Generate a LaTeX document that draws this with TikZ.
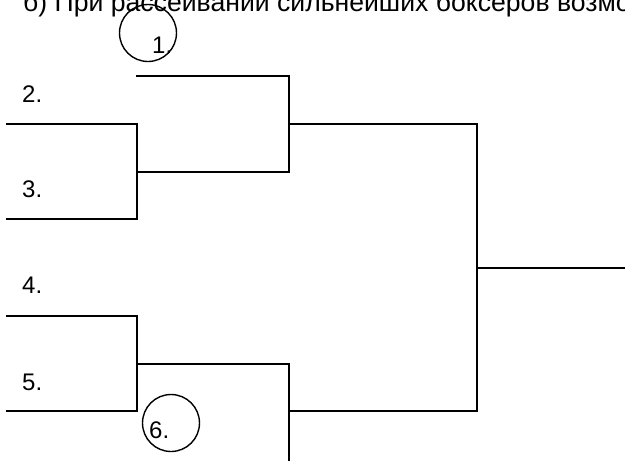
\documentclass[tikz,border=0pt]{standalone}
\usepackage{fontspec}
\setmainfont{Liberation Sans}
\begin{document}
\begin{tikzpicture}[x=1pt,y=-1pt,
  lbl/.style={anchor=base west,inner sep=0pt,font=\fontsize{24}{28}\selectfont},
  ring/.style={draw,circle,line width=1.4pt,minimum size=57pt,inner sep=0pt},
  wire/.style={line width=2pt,line cap=rect}]
\clip (0,0) rectangle (625,461);
\fill[white] (0,0) rectangle (625,461);
% heading
\node[anchor=base west,inner sep=0pt,font=\fontsize{26.6}{30}\selectfont] (head) at (23,11) {б) При рассеивании сильнейших боксеров возмо};
% circles
\node[ring] (c1) at (148,33) {};
\node[ring] (c6) at (171,423) {};
% labels
\node[lbl] (l1) at (152,53) {1.};
\node[lbl] (l2) at (22,102) {2.};
\node[lbl] (l3) at (22,197) {3.};
\node[lbl] (l4) at (22,293) {4.};
\node[lbl] (l5) at (22,390) {5.};
\node[lbl] (l6) at (149,438) {6.};
% coordinates
\coordinate (a1) at (137,76);
\coordinate (a2) at (289,76);
\coordinate (b1) at (7,124);
\coordinate (b2) at (137,124);
\coordinate (b3) at (137,219);
\coordinate (b4) at (7,219);
\coordinate (m1) at (137,172);
\coordinate (m2) at (289,172);
\coordinate (r1) at (289,124);
\coordinate (r2) at (477,124);
\coordinate (r3) at (477,411);
\coordinate (r4) at (289,411);
\coordinate (f1) at (477,268);
\coordinate (f2) at (626,268);
\coordinate (d1) at (7,316);
\coordinate (d2) at (137,316);
\coordinate (d3) at (137,411);
\coordinate (d4) at (7,411);
\coordinate (n1) at (137,364);
\coordinate (n2) at (289,364);
\coordinate (n3) at (289,462);
% brackets
\draw[wire] (a1) -- (a2) -- (m2) -- (m1);
\draw[wire] (b1) -- (b2) -- (b3) -- (b4);
\draw[wire] (r1) -- (r2) -- (r3) -- (r4);
\draw[wire] (f1) -- (f2);
\draw[wire] (d1) -- (d2) -- (d3) -- (d4);
\draw[wire] (n1) -- (n2) -- (n3);
\end{tikzpicture}
\end{document}
